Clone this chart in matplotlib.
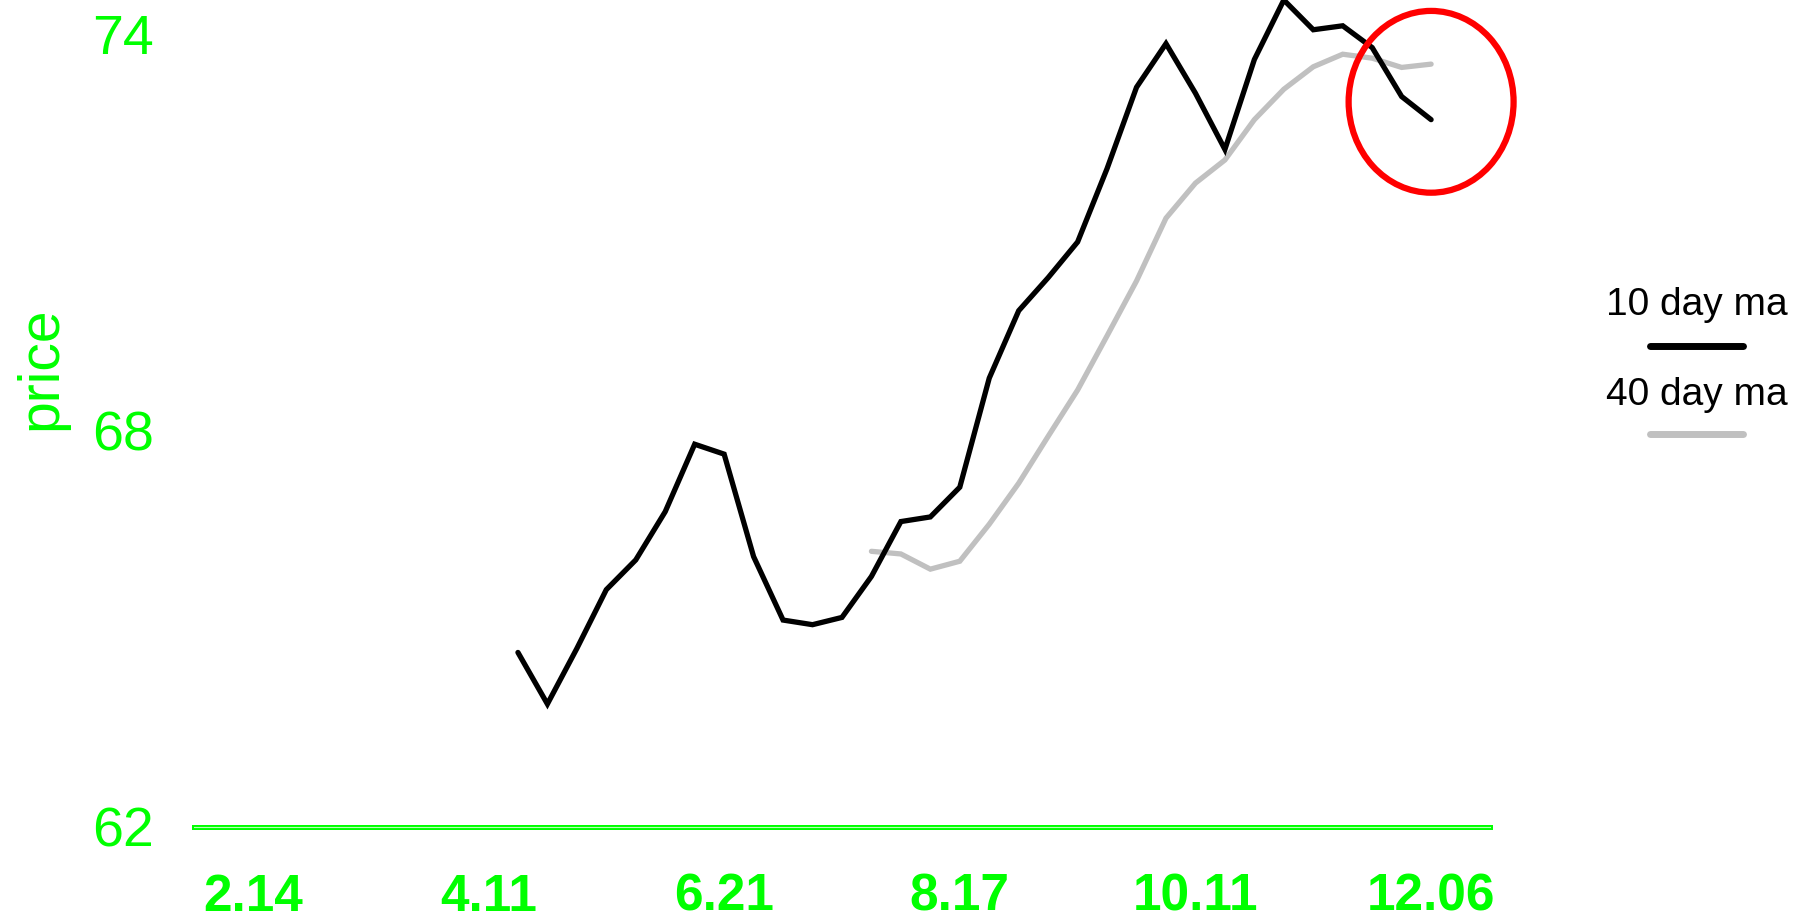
import numpy as np
import matplotlib
matplotlib.use("Agg")
import matplotlib.pyplot as plt
from matplotlib.lines import Line2D
from matplotlib.patches import Ellipse

GREEN = "#00FF00"
GREY = "#C0C0C0"

# x positions are weekly points 0..40, labelled every 8th point
tick_pos = [0, 8, 16, 24, 32, 40]
tick_labels = ["2.14", "4.11", "6.21", "8.17", "10.11", "12.06"]

# 10 day moving average starts at point 9
ma10_start = 9
ma10 = [64.64, 63.86, 64.70, 65.59, 66.04, 66.77, 67.79, 67.64, 66.09, 65.13,
        65.06, 65.17, 65.79, 66.62, 66.69, 67.14, 68.79, 69.81, 70.31, 70.85,
        71.96, 73.19, 73.85, 73.10, 72.25, 73.61, 74.51, 74.06, 74.12, 73.79,
        73.05, 72.70]

# 40 day moving average starts at point 21
ma40_start = 21
ma40 = [66.17, 66.13, 65.90, 66.02, 66.58, 67.20, 67.91, 68.61, 69.43, 70.26,
        71.21, 71.74, 72.09, 72.70, 73.16, 73.50, 73.69, 73.63, 73.49, 73.54]

y_ticks = [62, 68, 74]

plt.rcParams["font.family"] = ["Liberation Sans", "DejaVu Sans"]

fig = plt.figure(figsize=(18.14, 9.21), dpi=100)
ax = fig.add_axes([0.1069, 0.1021, 0.7145, 0.8979])

x10 = np.arange(ma10_start, ma10_start + len(ma10))
x40 = np.arange(ma40_start, ma40_start + len(ma40))
ax.plot(x40, ma40, color=GREY, lw=3.8, solid_capstyle="round",
        solid_joinstyle="miter", clip_on=False)
ax.plot(x10, ma10, color="black", lw=3.8, solid_capstyle="round",
        solid_joinstyle="miter", clip_on=False)

# highlight the latest point
ax.add_patch(Ellipse((x10[-1], 72.97), 5.6, 2.75, fill=False,
                     edgecolor="red", lw=4.5, clip_on=False, zorder=5))

ax.set_xlim(-2, 42)
ax.set_ylim(62, 74.51)
ax.set_xticks(tick_pos)
ax.set_xticklabels(tick_labels, fontsize=37, fontweight="bold", color=GREEN)
ax.set_yticks(y_ticks)
ax.set_yticklabels([str(v) for v in y_ticks], fontsize=40, color=GREEN)
ax.tick_params(axis="x", length=0, pad=33)
ax.tick_params(axis="y", length=0, pad=29)

ax.spines[["top", "right", "left"]].set_visible(False)
ax.spines["bottom"].set_color(GREEN)
ax.spines["bottom"].set_linewidth(3.6)
ax.axhline(62, color="#b8ffb8", lw=0.8, zorder=3, clip_on=False)

fig.text(41 / 1814, 1 - 368 / 921, "price", rotation=90, fontsize=41,
         color=GREEN, ha="center", va="center")

# legend drawn by hand: label above its line sample
for label, col, y_txt, y_line in [("10 day ma", "black", 315, 346),
                                  ("40 day ma", GREY, 405, 434)]:
    fig.text(1697 / 1814, 1 - y_txt / 921, label, fontsize=28,
             color="black", ha="center", va="baseline")
    fig.add_artist(Line2D([1650 / 1814, 1743 / 1814],
                          [1 - y_line / 921] * 2, color=col, lw=5,
                          solid_capstyle="round"))

fig.savefig("out.png", dpi=100, facecolor="white")
